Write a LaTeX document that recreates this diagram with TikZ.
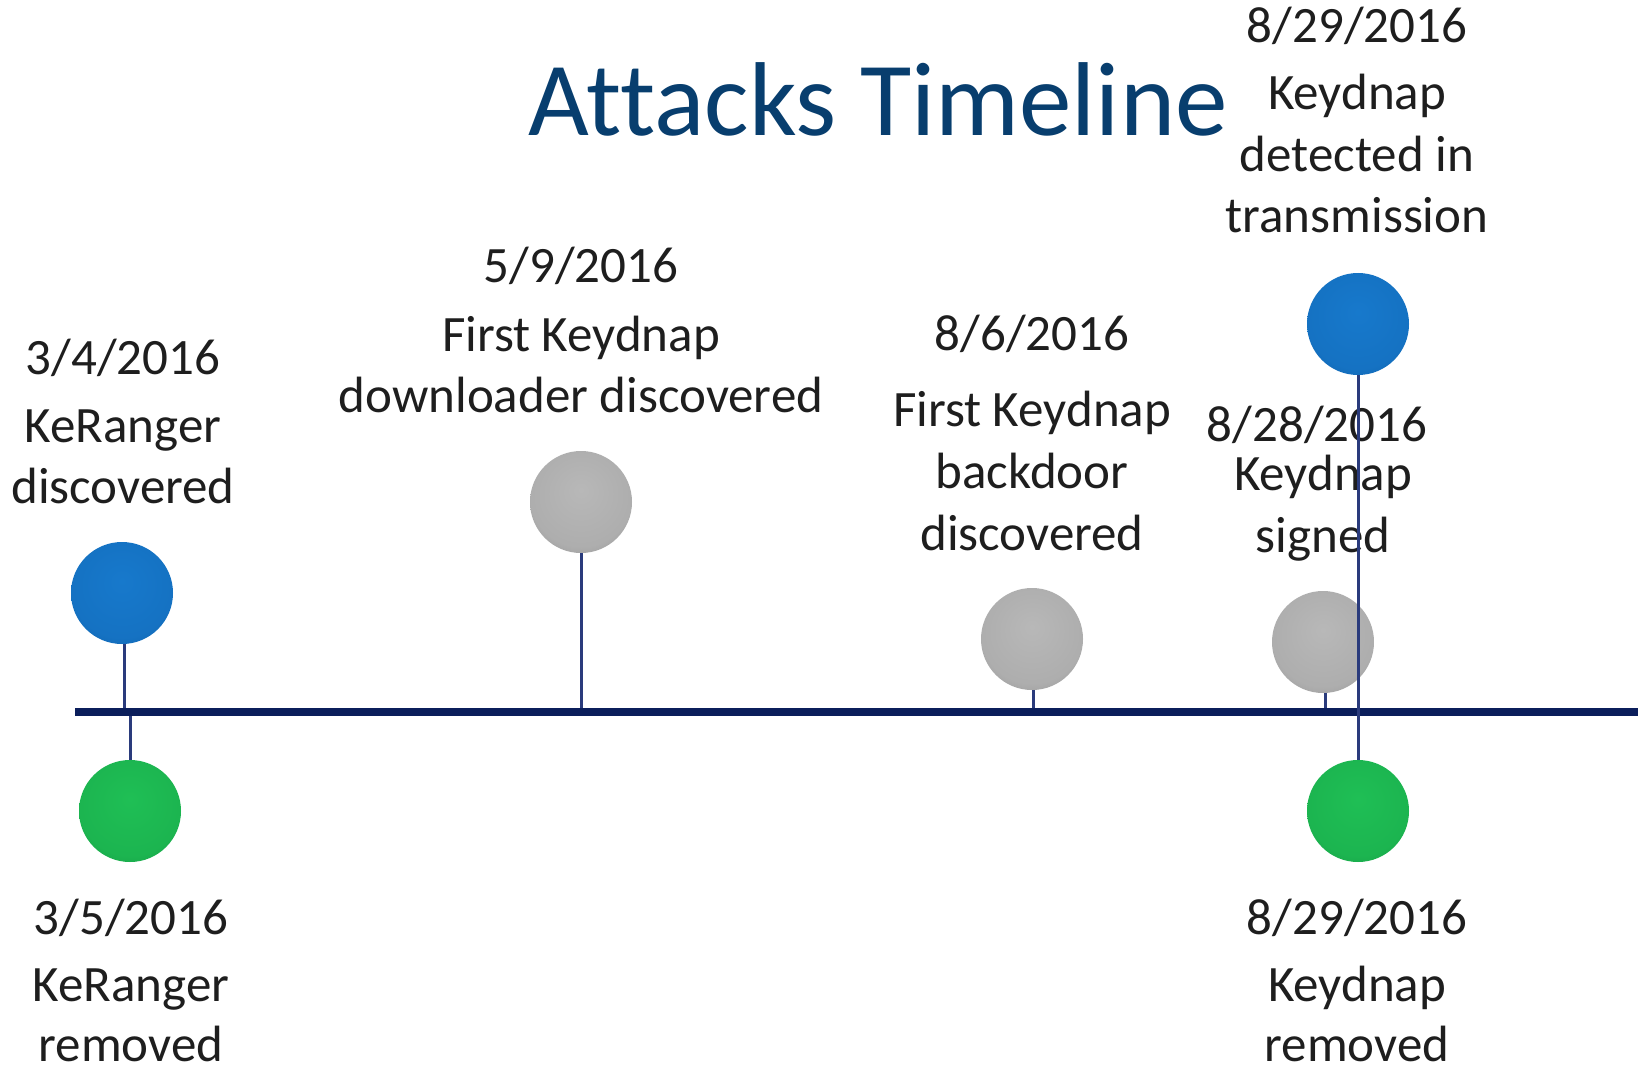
\documentclass[tikz,border=0pt]{standalone}
\usepackage{fontspec}
\setmainfont[Ligatures=NoCommon]{Carlito}
\definecolor{titleblue}{HTML}{083E6E}
\definecolor{axisnavy}{HTML}{0B1E5B}
\definecolor{stemnavy}{HTML}{2A3B7C}
\definecolor{txt}{HTML}{1E1E1E}
\definecolor{bluein}{HTML}{1779CC}
\definecolor{blueout}{HTML}{084A8C}
\definecolor{greenin}{HTML}{1FBF55}
\definecolor{greenout}{HTML}{0B7A33}
\definecolor{grayin}{HTML}{B8B8B8}
\definecolor{grayout}{HTML}{737373}
\pgfdeclareradialshading{sphblue}{\pgfpoint{0bp}{6bp}}{color(0bp)=(bluein); color(25bp)=(bluein!85!blueout); color(50bp)=(blueout)}
\pgfdeclareradialshading{sphgreen}{\pgfpoint{0bp}{6bp}}{color(0bp)=(greenin); color(25bp)=(greenin!85!greenout); color(50bp)=(greenout)}
\pgfdeclareradialshading{sphgray}{\pgfpoint{0bp}{6bp}}{color(0bp)=(grayin); color(25bp)=(grayin!85!grayout); color(50bp)=(grayout)}
\tikzset{
  ball/.style={circle, minimum size=102pt, inner sep=0pt, draw=none},
  bballs/.style={ball, shading=sphblue},
  gballs/.style={ball, shading=sphgreen},
  yballs/.style={ball, shading=sphgray},
  lbl/.style={anchor=base, inner sep=0pt, font=\fontsize{51}{60}\selectfont, text=txt},
  stem/.style={draw=stemnavy, line width=3pt},
  axisline/.style={draw=axisnavy, line width=8pt},
}
\begin{document}
\begin{tikzpicture}[x=1pt,y=-1pt]
\useasboundingbox[fill=white] (0,0) rectangle (1641,1067);
% title
\node[anchor=base, inner sep=0pt, font=\fontsize{105}{120}\selectfont, text=titleblue] (title) at (878,136) {Attacks Timeline};
% axis
\coordinate (axL) at (75,712);
\coordinate (axR) at (1638,712);
% spheres
\node[bballs] (b1) at (122,593) {};
\node[gballs] (g1) at (130,811) {};
\node[yballs] (y1) at (581,502) {};
\node[yballs] (y2) at (1032,639) {};
\node[yballs] (y3) at (1323,642) {};
\node[bballs] (b2) at (1358,324) {};
\node[gballs] (g2) at (1358,811) {};
% stems
\coordinate (s1) at (124,712);
\coordinate (s2) at (130,712);
\coordinate (s3) at (581,712);
\coordinate (s4) at (1033,712);
\coordinate (s5) at (1325,712);
\draw[stem] (b1.south -| s1) -- (s1);
\draw[stem] (s2) -- (g1.north);
\draw[stem] (y1.south) -- (s3);
\draw[stem] (y2.south -| s4) -- (s4);
\draw[stem] (y3.south -| s5) -- (s5);
\draw[axisline] (axL) -- (axR);
% labels
\node[lbl] (a1) at (123,374) {3/4/2016};
\node[lbl] (a2) at (123,442) {KeRanger};
\node[lbl] (a3) at (123,503) {discovered};
\node[lbl] (c1) at (581,283) {5/9/2016};
\node[lbl] (c2) at (581,351) {First Keydnap};
\node[lbl] (c3) at (581,412) {downloader discovered};
\node[lbl] (d1) at (1032,350) {8/6/2016};
\node[lbl] (d2) at (1032,426) {First Keydnap};
\node[lbl] (d3) at (1032,488) {backdoor};
\node[lbl] (d4) at (1032,550) {discovered};
\node[lbl] (e1) at (1317,441) {8/28/2016};
\node[lbl] (e2) at (1323,490) {Keydnap};
\node[lbl] (e3) at (1323,552) {signed};
\node[lbl] (f1) at (1357,43) {8/29/2016};
\node[lbl] (f2) at (1357,110) {Keydnap};
\node[lbl] (f3) at (1357,172) {detected in};
\node[lbl] (f4) at (1357,233) {transmission};
\node[lbl] (h1) at (131,934) {3/5/2016};
\node[lbl] (h2) at (131,1001) {KeRanger};
\node[lbl] (h3) at (131,1061) {removed};
\node[lbl] (k1) at (1357,934) {8/29/2016};
\node[lbl] (k2) at (1357,1001) {Keydnap};
\node[lbl] (k3) at (1357,1061) {removed};
% long stem drawn over
\draw[stem] (b2.south) -- (g2.north);
\end{tikzpicture}
\end{document}
